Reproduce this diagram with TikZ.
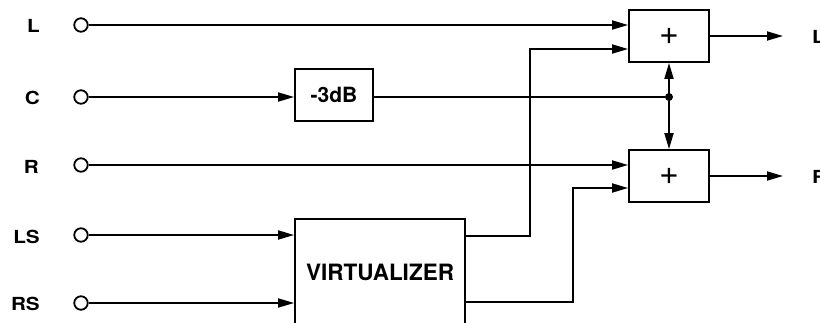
\documentclass[tikz,border=0pt]{standalone}
\usepackage{fontspec}
\setmainfont{TeX Gyre Heros}
\usetikzlibrary{arrows.meta}
\tikzset{
  wire/.style={line width=1.8pt},
  sig/.style={wire, -{Triangle[length=16pt,width=9pt]}},
  bisig/.style={wire, {Triangle[length=16pt,width=9pt]}-{Triangle[length=16pt,width=9pt]}},
  jack/.style={circle, draw, line width=1.8pt, minimum size=13.5pt, inner sep=0pt, fill=white},
  blk/.style={draw, line width=1.8pt, inner sep=0pt, fill=white},
  chlabel/.style={anchor=east, inner sep=0pt, font=\fontsize{18}{18}\selectfont\bfseries, xscale=1.15},
  outlabel/.style={anchor=west, inner sep=0pt, font=\fontsize{18}{18}\selectfont\bfseries, xscale=1.15},
  dot/.style={circle, fill, inner sep=0pt, minimum size=8pt}
}
\begin{document}
\begin{tikzpicture}[x=1pt, y=-1pt]
  \useasboundingbox (0,0) rectangle (820,322);
  \clip (0,0) rectangle (820,322);

  % input jacks and channel names
  \node[jack] (inL)  at (81,25)  {};
  \node[jack] (inC)  at (81,97)  {};
  \node[jack] (inR)  at (81,165) {};
  \node[jack] (inLS) at (81,235) {};
  \node[jack] (inRS) at (81,303) {};
  \node[chlabel] (lL)  at (40,26)  {L};
  \node[chlabel] (lC)  at (40,98)  {C};
  \node[chlabel] (lR)  at (39,167) {R};
  \node[chlabel] (lLS) at (40,237) {LS};
  \node[chlabel] (lRS) at (40,304) {RS};

  % processing blocks
  \node[blk, minimum width=78pt, minimum height=52pt,
        font=\fontsize{21}{21}\selectfont\bfseries] (db) at (334,95) {-3dB};
  \node[blk, minimum width=170pt, minimum height=106pt,
        font=\fontsize{22.5}{22.5}\selectfont\bfseries] (virt) at (380,272) {VIRTUALIZER};
  \node[blk, minimum width=80pt, minimum height=52pt,
        font=\fontsize{34}{34}\selectfont] (sumL) at (669,36) {+};
  \node[blk, minimum width=80pt, minimum height=52pt,
        font=\fontsize{34}{34}\selectfont] (sumR) at (669,176) {+};

  % junction on the centre feed
  \node[dot] (j) at (669,97) {};

  % routing corners and free ends
  \coordinate (v1) at (465,236);
  \coordinate (v1a) at (530,236);
  \coordinate (v1b) at (530,49);
  \coordinate (v2) at (465,302);
  \coordinate (v2a) at (573,302);
  \coordinate (v2b) at (573,188);
  \coordinate (oL) at (783,36);
  \coordinate (oR) at (783,176);

  % connectors
  \draw[sig] (inL) -- (inL -| sumL.west);
  \draw[sig] (inC) -- (inC -| db.west);
  \draw[wire] (db.east |- inC) -- (j);
  \draw[bisig] (sumL.south) -- (sumR.north);
  \draw[sig] (inR) -- (inR -| sumR.west);
  \draw[sig] (inLS) -- (inLS -| virt.west);
  \draw[sig] (inRS) -- (inRS -| virt.west);
  \draw[sig] (v1) -- (v1a) -- (v1b) -- (v1b -| sumL.west);
  \draw[sig] (v2) -- (v2a) -- (v2b) -- (v2b -| sumR.west);
  \draw[sig] (sumL.east) -- (oL);
  \draw[sig] (sumR.east) -- (oR);

  % output names
  \node[outlabel] (outL) at (812,37) {L};
  \node[outlabel] (outR) at (812,177) {R};
\end{tikzpicture}
\end{document}
